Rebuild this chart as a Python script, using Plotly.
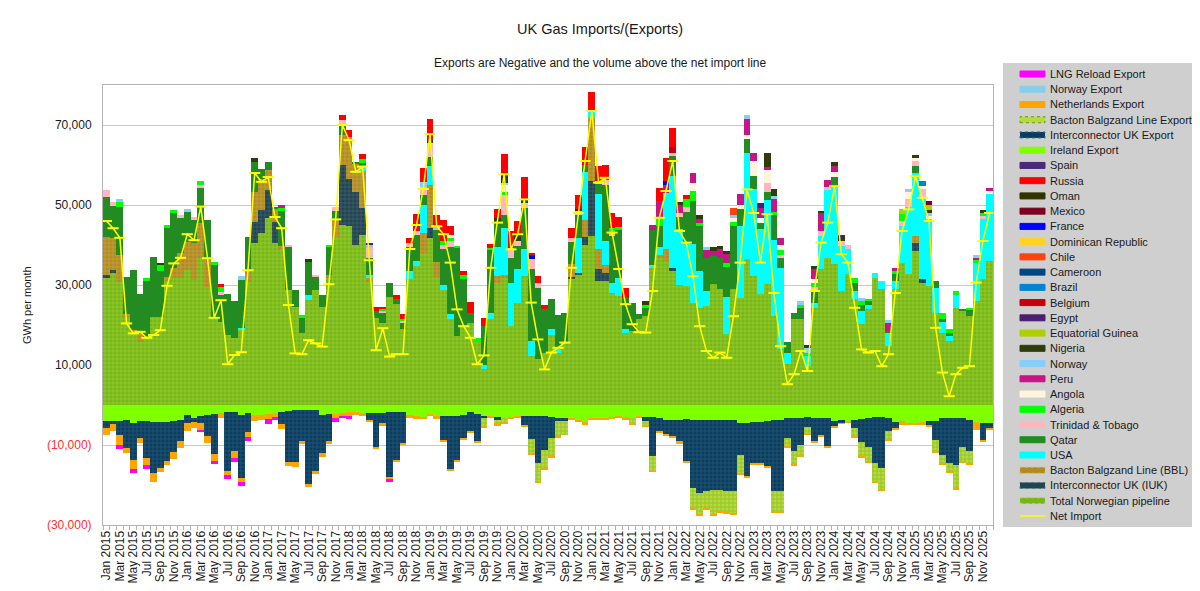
import plotly.graph_objects as go

# ---------------- categories ----------------
MONTH_NAMES = ["Jan", "Feb", "Mar", "Apr", "May", "Jun", "Jul", "Aug", "Sep", "Oct", "Nov", "Dec"]
YEARS = [2015, 2016, 2017, 2018, 2019, 2020, 2021, 2022, 2023, 2024, 2025]
months = [f"{m} {y}" for y in YEARS for m in MONTH_NAMES]

# ---------------- imports (GWh per month) ----------------
norwegian_pipeline = [
    31700, 33000, 30800, 22000, 18300, 15800, 16700, 22000, 22000, 31000, 31700, 31700,
    33700, 31200, 36700, 29600, 21700, 20800, 17500, 16700, 18700, 30800, 40400, 42900,
    46700, 40400, 39000, 28700, 24600, 17900, 26200, 28700, 24600, 31700, 42000, 45000,
    44800, 40000, 42500, 30800, 21700, 20400, 27000, 25200, 19000, 31400, 34700, 38000,
    41800, 32000, 28700, 21400, 17200, 19700, 20600, 16000, 8900, 21400, 30600, 31800,
    19700, 25600, 32200, 12200, 11400, 13100, 17400, 13100, 15600, 31400, 32700, 40000,
    42200, 31000, 31000, 28000, 27200, 18000, 18500, 21400, 22200, 34300, 36800, 36000,
    33500, 30000, 29700, 25600, 24300, 24700, 30200, 28900, 17700, 28900, 26800, 36400,
    32200, 27700, 30200, 22200, 13900, 10200, 21400, 21400, 9700, 24300, 33900, 36800,
    35200, 28500, 32700, 26400, 20200, 23900, 31800, 28900, 14700, 28900, 35600, 32700,
    38500, 30600, 29700, 23100, 18000, 16000, 24300, 23500, 22200, 26000, 31600, 36000,
]
iuk_import = [
    800, 800, 0, 0, 0, 0, 0, 0, 0, 0, 0, 0,
    0, 0, 0, 0, 0, 0, 0, 0, 0, 0, 5400, 5800,
    7000, 5400, 0, 0, 0, 0, 0, 0, 0, 0, 0, 15000,
    11800, 13300, 6700, 0, 0, 0, 0, 0, 0, 0, 0, 0,
    2500, 0, 0, 0, 0, 0, 0, 0, 0, 0, 0, 0,
    0, 0, 0, 0, 0, 0, 0, 0, 0, 600, 400, 2100,
    13700, 3000, 2000, 0, 0, 0, 0, 0, 0, 0, 0, 0,
    800, 0, 0, 0, 0, 0, 0, 0, 0, 0, 0, 0,
    0, 0, 0, 0, 0, 0, 0, 0, 0, 0, 0, 0,
    0, 0, 0, 0, 0, 0, 0, 0, 0, 0, 0, 0,
    2000, 1000, 0, 0, 0, 0, 0, 0, 0, 0, 0, 0,
]
bbl_import = [
    9400, 8000, 6700, 800, 500, 2500, 0, 0, 0, 1000, 2500, 6200,
    7100, 9200, 8700, 7000, 0, 0, 0, 0, 0, 3000, 7500, 7900,
    5000, 3300, 800, 0, 0, 0, 0, 0, 0, 800, 4500, 7500,
    10400, 7000, 9200, 1000, 0, 0, 0, 0, 0, 0, 0, 5000,
    10800, 3800, 0, 0, 0, 0, 0, 0, 0, 0, 1700, 800,
    0, 0, 0, 0, 0, 0, 0, 0, 0, 3300, 0, 4200,
    15800, 5000, 2000, 0, 0, 0, 0, 0, 0, 0, 800, 3000,
    0, 0, 0, 0, 0, 0, 0, 0, 0, 0, 0, 0,
    0, 0, 0, 0, 0, 0, 0, 0, 0, 0, 0, 0,
    0, 0, 0, 0, 0, 0, 0, 0, 0, 0, 0, 0,
    1700, 0, 0, 0, 0, 0, 0, 0, 0, 0, 0, 0,
]
usa = [
    0, 0, 0, 0, 0, 0, 0, 0, 0, 0, 0, 0,
    0, 0, 0, 0, 0, 0, 0, 0, 500, 0, 0, 0,
    0, 0, 0, 0, 0, 0, 1300, 0, 0, 0, 0, 0,
    0, 0, 1200, 800, 0, 0, 0, 0, 0, 2000, 1200, 7000,
    4700, 0, 1200, 1300, 0, 0, 0, 0, 1200, 1700, 7100, 11700,
    10800, 8300, 6700, 3700, 0, 0, 1700, 800, 0, 0, 8700, 12000,
    1500, 13700, 6000, 2500, 4600, 1000, 0, 0, 0, 800, 2000, 14000,
    23000, 14000, 11000, 14600, 9200, 3700, 0, 0, 9200, 0, 17900, 26700,
    21700, 16200, 21000, 19000, 20400, 2900, 0, 0, 2500, 1200, 8300, 17000,
    19600, 11200, 6200, 2100, 3300, 1200, 1200, 2100, 3300, 2100, 9200, 16700,
    15800, 20000, 16700, 6200, 2700, 1200, 3300, 0, 0, 9600, 14800, 16700,
]
qatar = [
    10000, 8000, 12000, 9200, 14900, 9400, 14300, 14900, 11500, 12200, 13700, 8800,
    7500, 5800, 8900, 9600, 13300, 6700, 10300, 9300, 12000, 8200, 7500, 2500,
    2000, 300, 8700, 10800, 4100, 3800, 8300, 3500, 2900, 7000, 2000, 2500,
    0, 500, 1000, 4200, 1700, 2500, 3400, 1200, 1500, 6200, 6700, 2500,
    2300, 8000, 9000, 16700, 22000, 11700, 2500, 0, 9600, 15800, 6200, 3300,
    6200, 5800, 10400, 18000, 17900, 10800, 7300, 8700, 7500, 5500, 5800, 1700,
    0, 2500, 14000, 11700, 12000, 7800, 7100, 1300, 2100, 8700, 5200, 0,
    5000, 3000, 7500, 10800, 11200, 8300, 7000, 7900, 7500, 15800, 4200, 3300,
    3300, 1700, 2100, 6200, 2500, 2700, 1700, 2900, 0, 3300, 0, 0,
    2100, 0, 0, 2100, 1400, 800, 0, 0, 400, 1700, 0, 0,
    1700, 0, 0, 1700, 700, 800, 0, 600, 1700, 0, 0, 0,
]
trinidad = [
    1800, 1000, 0, 0, 0, 0, 0, 0, 0, 0, 0, 800,
    0, 800, 700, 0, 0, 800, 0, 0, 0, 0, 0, 0,
    0, 0, 0, 400, 0, 0, 0, 300, 0, 0, 1000, 1200,
    0, 0, 0, 2500, 0, 500, 0, 0, 400, 1000, 1000, 2000,
    3300, 0, 1000, 1500, 0, 0, 0, 0, 0, 0, 0, 5000,
    2500, 1200, 1200, 2500, 1200, 0, 0, 0, 0, 1000, 800, 0,
    0, 800, 1300, 800, 0, 0, 0, 0, 0, 0, 0, 0,
    800, 1000, 1200, 0, 0, 0, 0, 0, 0, 0, 0, 0,
    0, 0, 2100, 0, 800, 0, 0, 0, 0, 800, 1200, 800,
    0, 1200, 1000, 0, 0, 0, 0, 0, 0, 0, 1200, 2100,
    1200, 2500, 0, 0, 0, 0, 0, 0, 0, 0, 800, 0,
]
algeria = [
    0, 0, 1200, 0, 0, 0, 700, 0, 1700, 800, 800, 0,
    0, 0, 1000, 0, 800, 1200, 0, 0, 0, 0, 0, 0,
    0, 0, 800, 0, 0, 800, 0, 0, 0, 400, 0, 0,
    0, 0, 1000, 0, 0, 600, 0, 0, 600, 0, 0, 0,
    0, 0, 1000, 800, 600, 1000, 0, 800, 0, 400, 0, 600,
    0, 0, 0, 0, 0, 0, 0, 0, 0, 0, 0, 0,
    0, 0, 0, 1200, 800, 0, 0, 0, 800, 0, 2000, 0,
    0, 0, 2000, 2500, 700, 0, 0, 0, 1200, 1000, 0, 0,
    0, 0, 0, 800, 1200, 0, 0, 800, 800, 800, 0, 0,
    0, 0, 0, 1200, 1100, 700, 0, 0, 0, 800, 1700, 0,
    0, 0, 0, 0, 1700, 1100, 800, 0, 400, 800, 800, 0,
]
angola = [
    0, 0, 0, 0, 0, 0, 0, 0, 0, 0, 0, 0,
    0, 0, 0, 0, 0, 0, 0, 0, 0, 0, 0, 0,
    0, 0, 0, 0, 0, 0, 0, 0, 0, 0, 0, 0,
    0, 0, 0, 0, 0, 0, 0, 0, 0, 0, 0, 0,
    0, 0, 0, 700, 0, 0, 0, 0, 0, 0, 0, 1700,
    0, 0, 0, 0, 0, 0, 0, 0, 0, 0, 0, 0,
    0, 0, 0, 0, 0, 0, 0, 0, 0, 0, 0, 0,
    0, 0, 0, 2000, 0, 0, 0, 0, 0, 1000, 1200, 1000,
    3700, 1200, 3300, 0, 1200, 0, 0, 0, 0, 1000, 0, 0,
    1400, 0, 0, 0, 0, 0, 0, 0, 0, 0, 0, 1700,
    800, 700, 800, 0, 0, 0, 0, 0, 0, 0, 0, 800,
]
peru = [
    0, 0, 0, 0, 0, 0, 0, 0, 0, 0, 0, 0,
    0, 0, 0, 0, 0, 0, 0, 0, 0, 0, 0, 0,
    0, 0, 800, 0, 0, 0, 0, 0, 0, 0, 0, 0,
    0, 0, 0, 0, 0, 0, 0, 0, 0, 0, 0, 0,
    0, 0, 0, 0, 0, 0, 0, 0, 0, 0, 0, 0,
    0, 0, 0, 0, 0, 0, 0, 0, 0, 0, 0, 0,
    0, 0, 0, 0, 0, 0, 0, 0, 0, 1200, 4200, 2000,
    0, 2000, 0, 2500, 1000, 2100, 1200, 2200, 2100, 0, 2700, 4200,
    2100, 2500, 800, 3300, 1700, 0, 0, 0, 0, 2500, 4600, 1700,
    1500, 0, 0, 0, 0, 0, 0, 0, 2100, 800, 0, 0,
    0, 0, 0, 0, 0, 0, 0, 0, 0, 400, 0, 800,
]
norway_lng = [
    0, 0, 700, 0, 0, 0, 0, 0, 0, 0, 0, 0,
    800, 0, 0, 0, 0, 0, 0, 0, 1000, 0, 0, 0,
    0, 0, 0, 0, 0, 0, 0, 0, 0, 0, 0, 0,
    0, 0, 0, 600, 0, 0, 0, 0, 0, 0, 0, 1300,
    0, 800, 0, 0, 0, 0, 0, 0, 0, 0, 0, 500,
    0, 0, 0, 0, 0, 0, 0, 0, 0, 0, 0, 0,
    0, 0, 0, 0, 0, 0, 0, 0, 0, 0, 0, 0,
    0, 0, 0, 0, 0, 800, 0, 0, 0, 800, 0, 800,
    0, 0, 0, 800, 0, 0, 0, 800, 1200, 0, 0, 0,
    0, 0, 0, 0, 800, 0, 0, 0, 800, 0, 0, 800,
    0, 0, 800, 0, 0, 0, 0, 0, 0, 800, 0, 0,
]
nigeria = [
    0, 0, 0, 0, 0, 0, 0, 0, 400, 0, 0, 0,
    0, 0, 0, 0, 0, 0, 0, 0, 0, 0, 1000, 0,
    0, 0, 0, 0, 0, 0, 800, 0, 0, 0, 0, 0,
    0, 0, 0, 0, 0, 0, 0, 0, 0, 0, 0, 0,
    800, 0, 0, 0, 0, 0, 0, 0, 0, 0, 1200, 1900,
    0, 2000, 1200, 0, 0, 0, 0, 0, 0, 0, 500, 0,
    0, 0, 0, 0, 0, 0, 0, 0, 800, 0, 0, 0,
    0, 800, 0, 0, 1000, 0, 1100, 700, 800, 0, 0, 0,
    0, 0, 3500, 1700, 0, 0, 0, 0, 800, 800, 400, 0,
    1000, 800, 0, 0, 0, 0, 0, 0, 0, 0, 0, 0,
    800, 0, 800, 0, 0, 0, 0, 0, 0, 0, 800, 0,
]
equatorial_guinea = [0] * 12 * 9 + [0, 0, 0, 0, 0, 0, 0, 0, 0, 0, 1200, 0] + [0, 0, 1200, 0, 0, 0, 0, 0, 0, 0, 0, 0]
egypt = (
    [0] * 12 * 3
    + [0, 0, 0, 500, 0, 0, 0, 0, 0, 0, 0, 0]
    + [0] * 12 * 4
    + [0, 1200, 0, 0, 0, 0, 0, 0, 0, 0, 0, 0]
    + [0, 800, 0, 0, 0, 0, 0, 0, 0, 0, 0, 0]
    + [0] * 12
)
belgium = [0] * 12 * 7 + [1500, 0, 0, 0, 0, 0, 0, 0, 0, 0, 0, 0] + [0] * 12 * 3
brazil = [0] * 12 * 10 + [0, 1200, 0, 0, 0, 0, 0, 0, 0, 0, 0, 0]
cameroon = [0] * 132
chile = [0] * 12 * 7 + [0, 0, 0, 0, 0, 0, 0, 0, 0, 1700, 0, 0] + [0] * 12 * 3
dominican_republic = [0] * 132
france = (
    [0] * 12 * 5
    + [0, 0, 0, 1000, 0, 0, 0, 0, 0, 0, 0, 0]
    + [0, 0, 0, 0, 0, 0, 0, 0, 0, 0, 0, 1000]
    + [0] * 12 * 4
)
mexico = [0] * 12 * 10 + [0, 0, 1000, 0, 0, 0, 0, 0, 0, 0, 0, 0]
oman = [0] * 132
russia = [
    0, 0, 0, 0, 0, 0, 0, 0, 0, 0, 0, 0,
    0, 0, 0, 0, 0, 800, 0, 0, 0, 0, 0, 0,
    0, 0, 0, 0, 0, 0, 0, 0, 0, 0, 0, 1200,
    1700, 0, 1200, 0, 1200, 600, 0, 1000, 1200, 1200, 4200, 3500,
    5200, 3000, 5400, 2300, 0, 1200, 2700, 0, 2100, 900, 2200, 5400,
    4200, 3200, 5400, 500, 1700, 1000, 0, 0, 0, 2500, 3700, 4600,
    5000, 3700, 3700, 3700, 2300, 2500, 0, 0, 0, 0, 3300, 5800,
    4600, 0, 1200, 0, 0, 0, 0, 0, 0, 0, 0, 0,
    0, 0, 0, 0, 0, 0, 0, 0, 0, 0, 0, 0,
    0, 0, 0, 0, 0, 0, 0, 0, 0, 0, 0, 0,
    0, 0, 0, 0, 0, 0, 0, 0, 0, 0, 0, 0,
]
spain = [0] * 132

# ---------------- exports (negative, GWh per month) ----------------
ireland_export = [
    -4100, -4100, -4100, -3700, -4600, -4000, -4000, -4200, -4200, -4300, -4000, -3700,
    -2500, -3200, -2700, -2500, -2300, -2100, -1800, -1800, -2500, -2100, -2500, -2500,
    -2200, -2100, -1800, -1500, -1200, -1200, -1200, -1200, -2500, -2300, -2300, -2100,
    -1700, -1800, -2100, -2100, -2100, -2100, -1800, -1800, -1700, -2500, -2700, -2900,
    -2300, -2700, -2700, -2700, -2700, -2500, -1800, -2300, -2900, -2900, -2900, -3200,
    -2900, -2900, -2700, -2700, -2700, -2700, -2900, -3300, -3300, -3300, -3700, -4200,
    -3300, -3300, -3300, -3200, -2900, -2900, -3300, -2900, -2900, -2900, -3300, -3700,
    -3700, -3700, -3500, -3700, -3700, -3700, -3700, -3700, -3700, -3700, -4600, -4600,
    -4300, -4200, -4000, -3700, -3700, -3300, -3300, -3200, -2900, -3300, -3200, -3300,
    -4000, -3700, -4200, -3700, -3500, -3300, -2900, -2900, -3300, -4200, -4000, -4600,
    -4600, -4200, -4000, -4000, -3300, -3300, -3300, -3300, -3700, -4200, -4600, -4600,
]
iuk_export = [
    -1700, -600, -3500, -7100, -9200, -4200, -9300, -12900, -11500, -9800, -7700, -5400,
    -2100, -1000, -1900, -5200, -9900, 0, -14700, -9800, -15700, -4700, 0, 0,
    0, 0, -3000, -12700, -13100, -7900, -18600, -15400, -9600, -6800, 0, 0,
    0, 0, 0, -1700, -8300, -2500, -16100, -11900, -7900, 0, 0, 0,
    0, 0, -6100, -13200, -11200, -5800, -4700, -6800, -400, 0, -800, 0,
    0, 0, -2300, -5700, -11900, -8600, -5400, -800, -800, 0, 0, 0,
    0, 0, 0, 0, 0, 0, 0, 0, -1000, -9800, -3300, -3600,
    -4200, -5400, -10700, -17100, -18300, -17900, -17500, -17500, -17900, -17900, -7900, -13300,
    -10200, -10400, -11400, -17900, -17900, -5000, -8300, -6800, -2500, -5800, -4300, -7100,
    -1400, -800, 0, -2100, -5700, -7100, -11700, -12900, -3300, -1700, 0, 0,
    0, 0, -1000, -4700, -9200, -11200, -11700, -7100, -7900, 0, -4200, -1200,
]
bbl_export = [
    0, 0, 0, 0, 0, 0, 0, 0, 0, 0, 0, 0,
    0, 0, 0, 0, 0, 0, 0, 0, 0, 0, 0, 0,
    0, 0, 0, 0, 0, 0, 0, 0, 0, 0, 0, 0,
    0, 0, 0, 0, 0, 0, 0, 0, 0, 0, 0, 0,
    0, 0, 0, 0, 0, 0, 0, 0, -2100, 0, -1200, -1200,
    0, 0, 0, -3700, -4600, -4600, -4600, -3700, -3300, 0, 0, 0,
    0, 0, 0, 0, 0, 0, -1200, 0, -1200, -3700, 0, 0,
    0, 0, 0, -5000, -5400, -4200, -6200, -5400, -5200, -5400, -4600, 0,
    0, 0, 0, -5000, -5000, -2100, -3300, -2500, -1700, 0, 0, 0,
    0, 0, 0, -2100, -3700, -3700, -4600, -5400, -2100, 0, 0, 0,
    0, 0, 0, -2900, -2100, -2100, -5800, -3700, -2900, 0, 0, 0,
]
netherlands_export = [
    -1800, -1900, -2300, -1100, -2200, -1200, -1700, -2100, -1000, -1000, -1700, -1700,
    -1900, -1500, -1700, -1900, -1700, -1200, -1000, -1700, -1000, -1300, -1400, -1200,
    -1200, -800, -1200, -1000, -1100, -700, -600, -700, -800, -700, -1000, -800,
    -1000, -700, -600, -400, -600, -600, -600, -600, -400, -700, -700, -600,
    -400, -700, -400, -700, -400, -400, -400, -400, -400, -400, -400, -200,
    -600, -400, -400, -400, -400, -400, -400, -400, 0, -400, -600, -800,
    -400, -400, -400, -300, -400, -800, -300, -400, -300, -400, -400, -400,
    -400, -600, -400, -400, -400, -300, -300, -300, -300, -300, -400, -400,
    -400, -400, -400, -400, -300, -300, -400, -300, -200, -400, -300, -400,
    -300, -200, -400, -300, -400, -300, -400, -300, -300, -300, -1000, -400,
    -400, -800, -300, -400, -300, -400, -300, -400, -300, -2100, -400, -300,
]
norway_export = [0] * 132
lng_reload_export = (
    [0, 0, -1000, 0, -900, 0, -1000, 0, 0, 0, 0, 0]
    + [0, 0, -400, 0, -800, 0, -1000, -1000, -1000, -1000, 0, 0]
    + [-1300, -800, 0, 0, 0, 0, 0, 0, 0, 0, -1000, -400]
    + [-700, 0, 0, 0, 0, 0, -800, 0, 0, 0, 0, 0]
    + [0] * 12 * 7
)

net_import = [
    46000, 44200, 41800, 20400, 17900, 18300, 16800, 17500, 18700, 29800, 35400, 36800,
    42700, 41200, 49600, 36700, 21800, 26200, 10200, 12500, 13200, 33700, 58000, 55800,
    57000, 47000, 44200, 25000, 12900, 12700, 16200, 15400, 14600, 30200, 46400, 70000,
    66200, 58300, 59600, 36200, 13700, 19200, 12100, 12700, 12700, 39000, 45000, 54000,
    67700, 44700, 42700, 35600, 23900, 19700, 16800, 10200, 12400, 34300, 45600, 57700,
    38900, 42700, 51400, 25600, 16400, 8900, 13100, 14300, 15600, 34300, 48000, 61000,
    73500, 55600, 56800, 43100, 34000, 25200, 20200, 18200, 18100, 28500, 46800, 53500,
    61000, 43500, 40600, 32200, 19700, 13500, 11800, 13100, 11800, 22200, 35600, 53900,
    48000, 35600, 47700, 28000, 14700, 5200, 7700, 13500, 8500, 28500, 40600, 45600,
    54700, 37700, 35600, 24300, 13900, 13100, 13500, 9700, 12700, 28000, 43500, 48900,
    57200, 51800, 46000, 19300, 8100, 2200, 7700, 9300, 9700, 30600, 41000, 48000,
]

y_tick_values = [-30000, -10000, 10000, 30000, 50000, 70000]
y_tick_labels = ["(30,000)", "(10,000)", "10,000", "30,000", "50,000", "70,000"]

# ---------------- styles ----------------
# (name, data, colour, pattern foreground or None)
positive_series = [
    ("Total Norwegian pipeline", norwegian_pipeline, "#74b71c", "#c2de36"),
    ("Interconnector UK (IUK)", iuk_import, "#24434f", "#4f8088"),
    ("Bacton Balgzand Line (BBL)", bbl_import, "#b08a26", "#d8bd45"),
    ("USA", usa, "#00ffff", None),
    ("Qatar", qatar, "#228b22", None),
    ("Trinidad & Tobago", trinidad, "#ffb6c1", None),
    ("Algeria", algeria, "#00ff00", None),
    ("Angola", angola, "#fff5dc", None),
    ("Peru", peru, "#c71585", None),
    ("Norway", norway_lng, "#87cefa", None),
    ("Nigeria", nigeria, "#2f3d0a", None),
    ("Equatorial Guinea", equatorial_guinea, "#aecf00", None),
    ("Egypt", egypt, "#4b1f6f", None),
    ("Belgium", belgium, "#c5000b", None),
    ("Brazil", brazil, "#0084d1", None),
    ("Cameroon", cameroon, "#004586", None),
    ("Chile", chile, "#ff420e", None),
    ("Dominican Republic", dominican_republic, "#ffd320", None),
    ("France", france, "#0000ff", None),
    ("Mexico", mexico, "#7e0021", None),
    ("Oman", oman, "#333300", None),
    ("Russia", russia, "#ff0000", None),
    ("Spain", spain, "#4b2a7a", None),
]
negative_series = [
    ("Ireland Export", ireland_export, "#80ff00", None),
    ("Interconnector UK Export", iuk_export, "#0d3b5e", "#2f7391"),
    ("Bacton Balgzand Line Export", bbl_export, "#b4dc3c", "#6f9a14"),
    ("Netherlands Export", netherlands_export, "#ffa500", None),
    ("Norway Export", norway_export, "#87ceeb", None),
    ("LNG Reload Export", lng_reload_export, "#ff00ff", None),
]

fig = go.Figure()

for name, data, colour, fg in positive_series + negative_series:
    marker = dict(color=colour, line=dict(width=0))
    if fg:
        marker["pattern"] = dict(shape="+", fgcolor=fg, size=4, solidity=0.35, fillmode="overlay")
    fig.add_trace(go.Bar(x=months, y=data, name=name, marker=marker, showlegend=False))

fig.add_trace(go.Scatter(
    x=months, y=net_import, name="Net Import", mode="lines+markers",
    line=dict(color="#ffff00", width=1.5),
    marker=dict(symbol="line-ew", size=8, line=dict(color="#ffff00", width=2)),
    showlegend=False,
))

# ---------------- layout geometry ----------------
# the page adds an 8px body margin, so the figure is 16px smaller and
# all target positions below are given in page pixels
PAGE_OFF = 8
W, H = 1200 - 2 * PAGE_OFF, 591 - 2 * PAGE_OFF
PLOT_X0, PLOT_X1, PLOT_Y0, PLOT_Y1 = 103, 993, 85, 525   # page pixels of plot area
L = PLOT_X0 - PAGE_OFF
T = PLOT_Y0 - PAGE_OFF
R = W - (PLOT_X1 - PAGE_OFF)
B = H - (PLOT_Y1 - PAGE_OFF)
PW, PH = PLOT_X1 - PLOT_X0, PLOT_Y1 - PLOT_Y0


def px_x(px):
    return (px - PLOT_X0) / PW


def px_y(py):
    return (PLOT_Y1 - py) / PH


neg_colour = "#ff2f2f"
ytext = [f"<span style='color:{neg_colour}'>{t}</span>" if v < 0 else t
         for v, t in zip(y_tick_values, y_tick_labels)]
xtext = [m if i % 2 == 0 else "" for i, m in enumerate(months)]

shapes = []
annotations = []

# legend panel (drawn manually to match the compact reference legend)
shapes.append(dict(type="rect", xref="paper", yref="paper",
                   x0=px_x(1003), x1=px_x(1192), y0=px_y(527), y1=px_y(63),
                   fillcolor="#cfcfcf", line=dict(width=0), layer="below"))

legend_items = list(reversed(negative_series)) + list(reversed(positive_series))
for k, (name, _, colour, fg) in enumerate(legend_items + [("Net Import", None, "#ffff00", None)]):
    yc = 74 + 15.24 * k
    if name == "Net Import":
        shapes.append(dict(type="line", xref="paper", yref="paper",
                           x0=px_x(1020), x1=px_x(1045), y0=px_y(yc), y1=px_y(yc),
                           line=dict(color="#ffff00", width=1.5)))
    else:
        shapes.append(dict(type="rect", xref="paper", yref="paper",
                           x0=px_x(1020), x1=px_x(1045), y0=px_y(yc + 3), y1=px_y(yc - 3),
                           fillcolor=colour,
                           line=dict(color=fg if fg else colour, width=1, dash="dot" if fg else "solid")))
    annotations.append(dict(x=px_x(1048), y=px_y(yc), xref="paper", yref="paper",
                            text=name, showarrow=False, xanchor="left", yanchor="middle",
                            font=dict(size=11, color="#1a1a1a")))

annotations.append(dict(x=px_x(600), y=px_y(29), xref="paper", yref="paper",
                        text="UK Gas Imports/(Exports)", showarrow=False,
                        xanchor="center", yanchor="middle",
                        font=dict(size=14.5, color="#1a1a1a")))
annotations.append(dict(x=px_x(600), y=px_y(63), xref="paper", yref="paper",
                        text="Exports are Negative and the volume above the net import line",
                        showarrow=False, xanchor="center", yanchor="middle",
                        font=dict(size=12, color="#1a1a1a")))
annotations.append(dict(x=px_x(27), y=0.5, xref="paper", yref="paper",
                        text="GWh per month", showarrow=False, textangle=-90,
                        xanchor="center", yanchor="middle",
                        font=dict(size=11, color="#1a1a1a")))

fig.update_layout(
    width=W, height=H, autosize=False,
    margin=dict(l=L, r=R, t=T, b=B, pad=0),
    barmode="relative", bargap=0,
    paper_bgcolor="white", plot_bgcolor="white",
    font=dict(family="Liberation Sans, Arial, sans-serif", size=12, color="#333333"),
    showlegend=False,
    shapes=shapes, annotations=annotations,
    xaxis=dict(
        type="category", tickmode="array", tickvals=months, ticktext=xtext,
        tickangle=-90, tickfont=dict(size=12, color="#1a1a1a"),
        ticks="outside", ticklen=4, tickcolor="#b3b3b3", tickson="boundaries",
        showline=True, linecolor="#b3b3b3", mirror=True, showgrid=False,
        range=[-0.5, len(months) - 0.5], automargin=False,
    ),
    yaxis=dict(
        range=[-30000, 80000], tickmode="array", tickvals=y_tick_values, ticktext=ytext,
        tickfont=dict(size=12, color="#1a1a1a"),
        ticks="outside", ticklen=8, tickcolor="rgba(0,0,0,0)",
        showgrid=True, gridcolor="#c8c8c8", gridwidth=1, zeroline=False,
        showline=True, linecolor="#b3b3b3", mirror=True, automargin=False,
    ),
)

fig.write_html("out.html")
